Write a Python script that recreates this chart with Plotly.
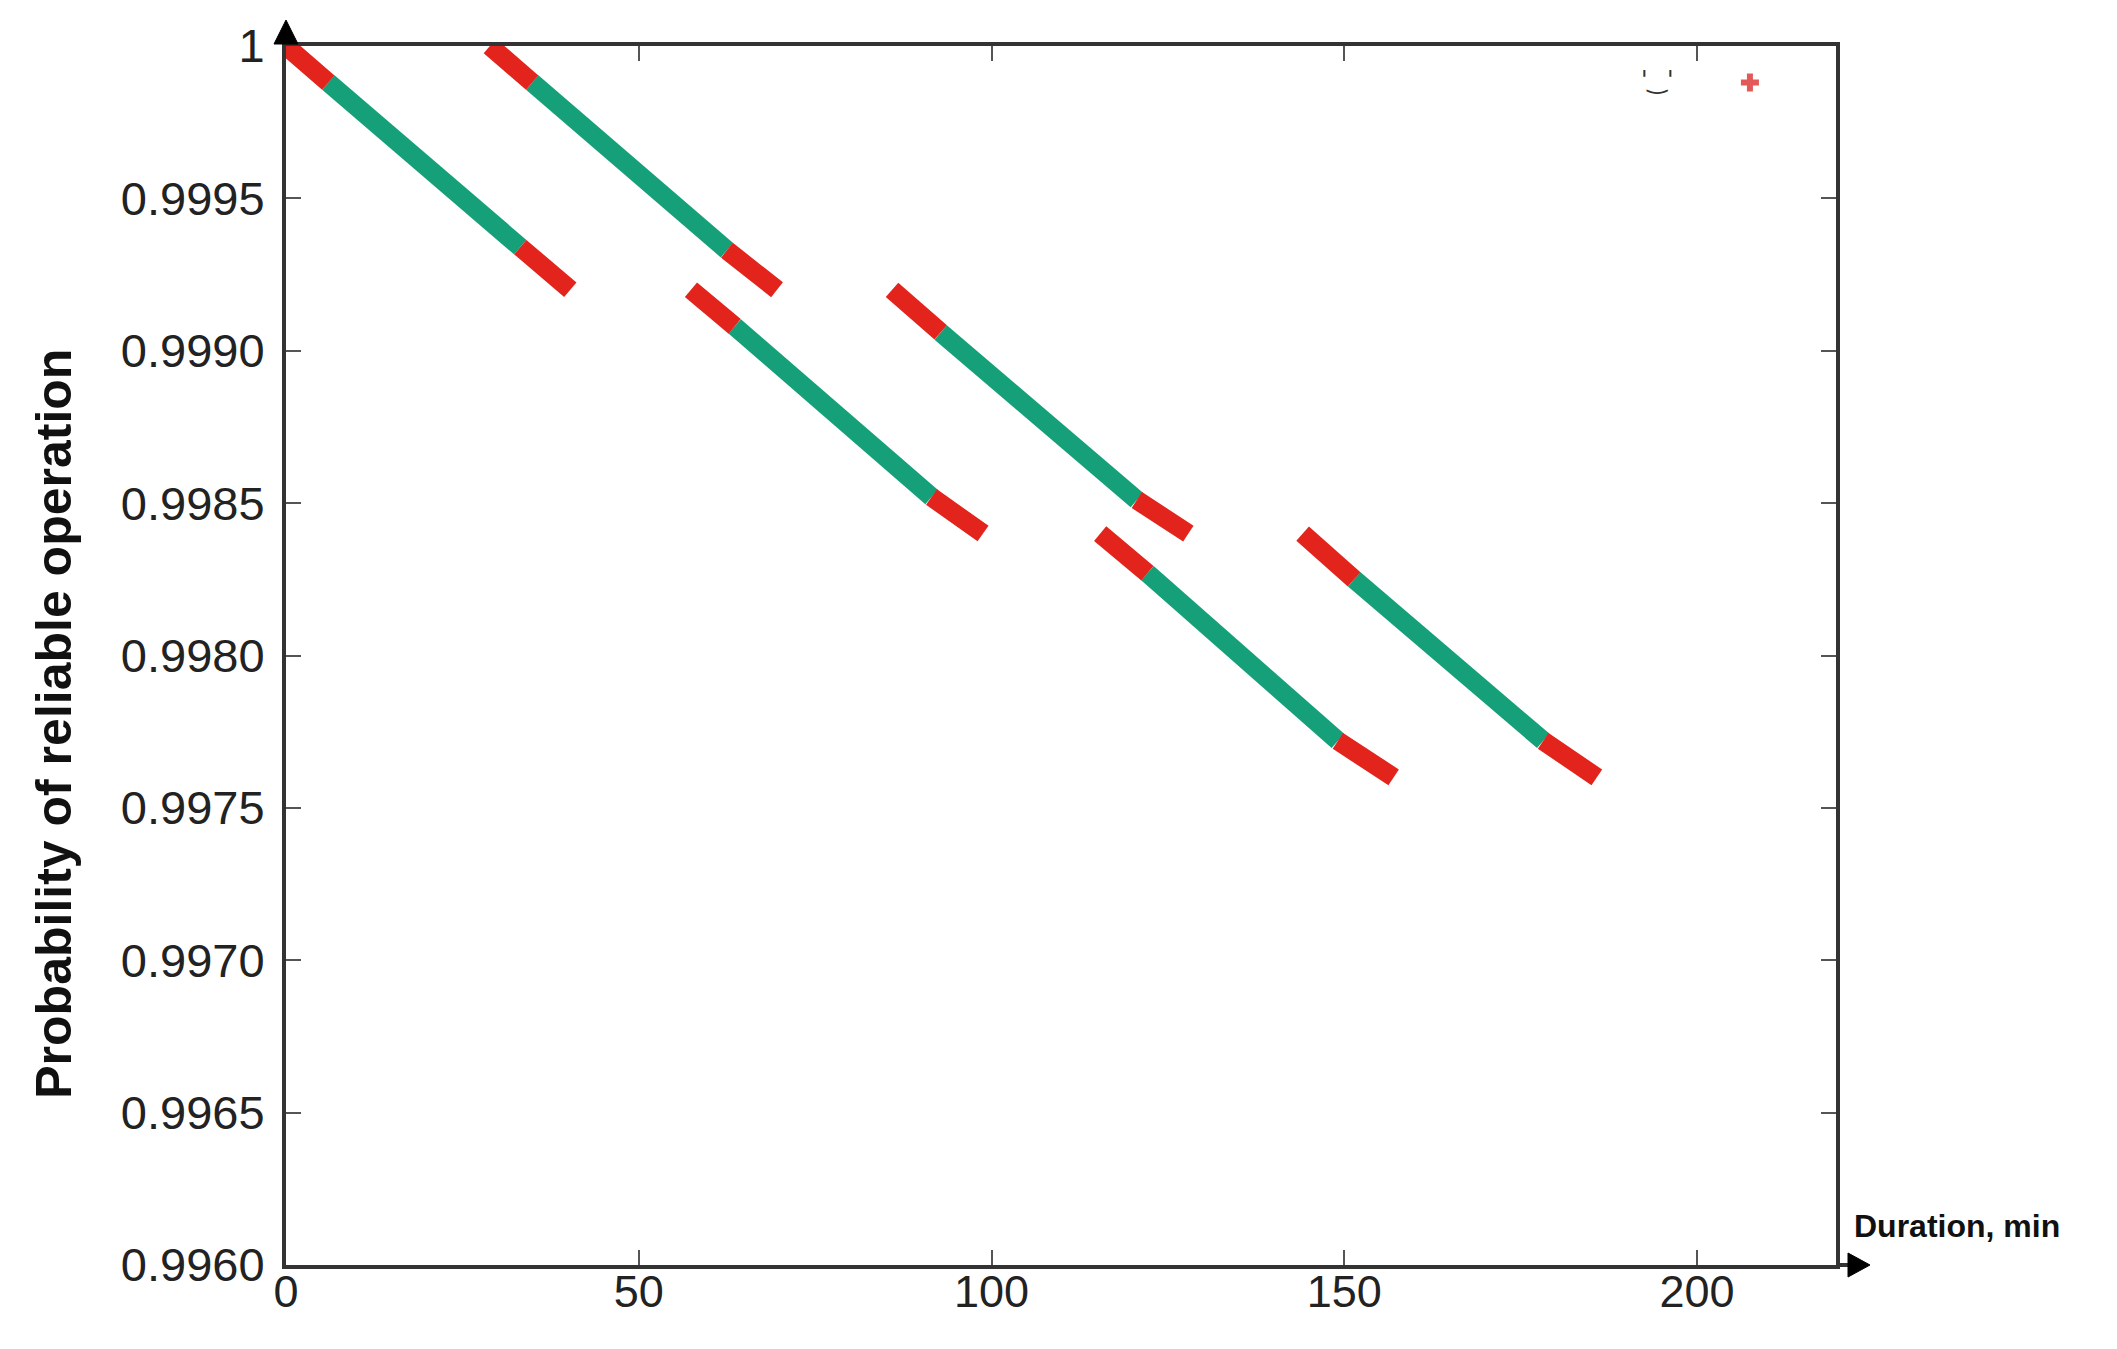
import plotly.graph_objects as go

# ---- data ----
band_x_start = [0.0, 28.9, 57.4, 85.9, 115.4, 144.1]
band_x_green_start = [6.0, 34.9, 63.6, 92.8, 122.1, 151.4]
band_x_green_end = [33.2, 62.5, 91.5, 120.6, 149.1, 178.2]
band_x_end = [40.3, 69.6, 98.8, 127.9, 157.0, 185.8]

band_y_start = [1.0, 1.0, 0.9992, 0.9992, 0.9984, 0.9984]
band_y_green_start = [0.99988, 0.99988, 0.99908, 0.99906, 0.99827, 0.99825]
band_y_green_end = [0.99934, 0.99933, 0.99852, 0.99851, 0.99772, 0.99772]
band_y_end = [0.9992, 0.9992, 0.9984, 0.9984, 0.9976, 0.9976]

single_x = [207.5]
single_y = [0.99988]

mark_x = 194.3
mark_y = 0.99989

x_tickvals = [0, 50, 100, 150, 200]
x_ticktext = ["0", "50", "100", "150", "200"]
y_tickvals = [0.996, 0.9965, 0.997, 0.9975, 0.998, 0.9985, 0.999, 0.9995, 1.0]
y_ticktext = ["0.9960", "0.9965", "0.9970", "0.9975", "0.9980", "0.9985", "0.9990", "0.9995", "1"]

GREEN = "#15a07a"
RED = "#e2241c"
LW = 19

fig = go.Figure()
for i in range(len(band_x_start)):
    fig.add_trace(go.Scatter(
        x=[band_x_green_start[i], band_x_green_end[i]],
        y=[band_y_green_start[i], band_y_green_end[i]],
        mode="lines", line=dict(color=GREEN, width=LW), hoverinfo="skip"))
    fig.add_trace(go.Scatter(
        x=[band_x_start[i], band_x_green_start[i]],
        y=[band_y_start[i], band_y_green_start[i]],
        mode="lines", line=dict(color=RED, width=LW), hoverinfo="skip"))
    fig.add_trace(go.Scatter(
        x=[band_x_green_end[i], band_x_end[i]],
        y=[band_y_green_end[i], band_y_end[i]],
        mode="lines", line=dict(color=RED, width=LW), hoverinfo="skip"))

fig.add_trace(go.Scatter(x=single_x, y=single_y, mode="markers",
                         marker=dict(symbol="cross", size=15, color="rgba(222,60,60,0.85)"),
                         hoverinfo="skip"))

AX = "#333333"
tickfont_y = dict(family="Liberation Sans, Arial, sans-serif", size=47, color="#222")
tickfont_x = dict(family="Liberation Sans, Arial, sans-serif", size=45, color="#222")

# page body has an 8px default margin, so the figure is shrunk and shifted by 8px
fig.update_layout(
    width=2109, height=1341,
    margin=dict(l=278, r=281, t=38, b=84, autoexpand=False),
    paper_bgcolor="white", plot_bgcolor="white",
    showlegend=False,
    xaxis=dict(range=[0, 219.7], tickvals=x_tickvals, ticktext=x_ticktext,
               showgrid=False, zeroline=False, showline=True, linecolor=AX, linewidth=4,
               mirror="ticks", ticks="inside", ticklen=15, tickwidth=2, tickcolor="#555",
               tickfont=tickfont_x, ticklabelstandoff=-16),
    yaxis=dict(range=[0.996, 1.0], tickvals=y_tickvals, ticktext=y_ticktext,
               showgrid=False, zeroline=False, showline=True, linecolor=AX, linewidth=4,
               mirror="ticks", ticks="inside", ticklen=15, tickwidth=2, tickcolor="#555",
               tickfont=tickfont_y, ticklabelstandoff=8),
)

# axis arrows
fig.add_shape(type="path", xref="paper", yref="paper", xsizemode="pixel", ysizemode="pixel",
              xanchor=0, yanchor=1.0, path="M -12 2 L 12 2 L 0 26 Z",
              fillcolor="black", line=dict(color="black", width=1), layer="above")
fig.add_shape(type="path", xref="paper", yref="paper", xsizemode="pixel", ysizemode="pixel",
              xanchor=1.0, yanchor=0, path="M 0 0 L 18 0",
              line=dict(color=AX, width=4), layer="above")
fig.add_shape(type="path", xref="paper", yref="paper", xsizemode="pixel", ysizemode="pixel",
              xanchor=1.0, yanchor=0, path="M 12 -12 L 12 12 L 34 0 Z",
              fillcolor="black", line=dict(color="black", width=1), layer="above")

fig.add_annotation(text="<b>Probability of reliable operation</b>", xref="paper", yref="paper",
                   x=-0.1497, y=0.444, xanchor="center", yanchor="middle", textangle=-90, showarrow=False,
                   font=dict(family="Liberation Sans, Arial, sans-serif", size=50, color="#111"))
fig.add_annotation(text="<b>Duration, min</b>", xref="paper", yref="paper",
                   x=1.0103, y=0.032, xanchor="left", yanchor="middle", showarrow=False,
                   font=dict(family="Liberation Sans, Arial, sans-serif", size=32, color="#111"))
fig.add_annotation(text="'‿'", x=mark_x, y=mark_y, showarrow=False,
                   font=dict(family="DejaVu Sans, sans-serif", size=24, color="#333"))

fig.write_html("out.html")
